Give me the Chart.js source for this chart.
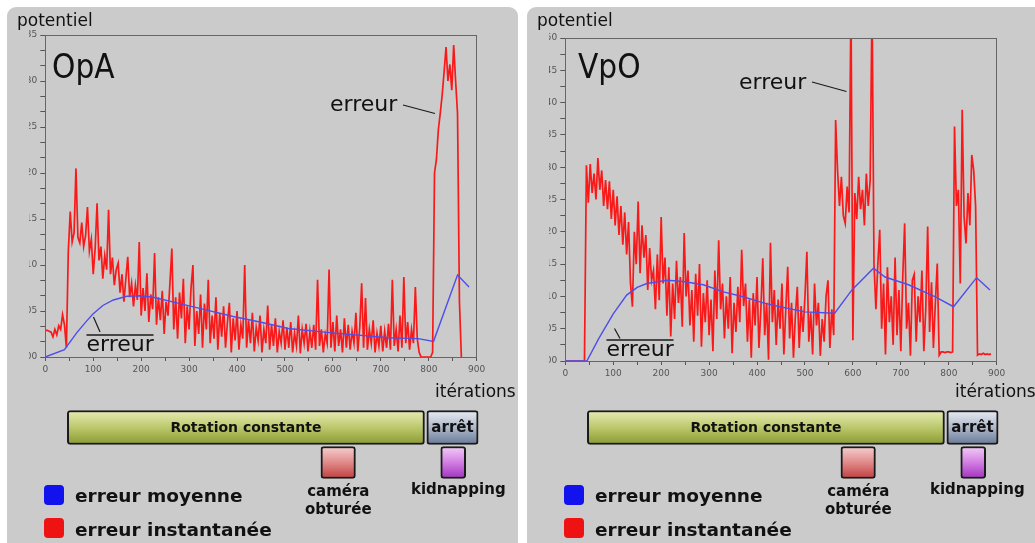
<!DOCTYPE html>
<html lang="fr">
<head>
<meta charset="utf-8">
<title>OpA / VpO</title>
<script src="https://cdn.jsdelivr.net/npm/chart.js@4.4.1/dist/chart.umd.min.js"></script>
<style>
  html, body { margin: 0; padding: 0; background: #fff; }
  body { width: 1035px; height: 543px; position: relative; overflow: hidden; font-family: 'DejaVu Sans', sans-serif; color: #111; }
  .panneau { position: absolute; top: 7px; height: 560px; background: #cbcbcb; border-radius: 9px; }
  canvas { position: absolute; }
  .txt { position: absolute; white-space: nowrap; line-height: 1; }
  .carre { position: absolute; width: 20px; height: 20px; border-radius: 4px; }
</style>
</head>
<body>
<div class="panneau" style="left:7px;width:511px"></div>
<div class="panneau" style="left:527px;width:520px"></div>

<canvas id="opa" width="469" height="365" style="left:29px;top:20px"></canvas>
<canvas id="vpo" width="469" height="365" style="left:549px;top:20px"></canvas>
<canvas id="chronoOpa" width="469" height="80" style="left:29px;top:405px"></canvas>
<canvas id="chronoVpo" width="469" height="80" style="left:549px;top:405px"></canvas>

<div id="textes"></div>

<svg width="1035" height="543" style="position:absolute;left:0;top:0" stroke="#1a1a1a" stroke-width="1.2">
  <line x1="403" y1="105" x2="435" y2="113.5"/>
  <line x1="93.5" y1="317" x2="100" y2="332"/>
  <line x1="86.5" y1="335" x2="153.5" y2="335" stroke-width="1.6"/>
  <line x1="812" y1="82" x2="846.5" y2="91.5"/>
  <line x1="614.5" y1="328.5" x2="620" y2="338.5"/>
  <line x1="606.5" y1="340" x2="673.5" y2="340" stroke-width="1.6"/>
</svg>

<script>
// pas d'échantillonnage de l'erreur instantanée (itérations)
const pas = 4;

// OpA : erreur instantanée, une valeur toutes les 4 itérations (unité : 0.01)
const opaErreur = [
  2.9, 2.9, 2.8, 2.7, 2.2, 3.0, 2.4, 3.4, 3.0, 4.6,
  3.5, 1.0, 11.5, 15.8, 12.5, 13.5, 20.5, 13.0, 12.4, 14.6,
  12.0, 13.2, 16.3, 11.5, 12.8, 9.0, 11.8, 16.7, 10.5, 12.0,
  8.5, 11.0, 9.5, 16.0, 9.0, 10.8, 7.8, 9.5, 10.2, 7.0,
  9.0, 6.0, 8.5, 10.9, 6.5, 8.0, 5.5, 7.8, 6.2, 12.5,
  4.5, 7.5, 5.0, 9.1, 3.8, 6.8, 5.2, 11.3, 3.5, 6.5,
  4.0, 7.2, 2.5, 6.0, 4.5, 8.0, 11.8, 3.0, 6.5, 2.0,
  7.0, 4.2, 8.5, 1.5, 5.5, 3.0, 7.5, 10.0, 1.2, 5.0,
  2.5, 6.8, 1.0, 5.8, 3.0, 8.4, 1.5, 4.5, 2.0, 6.5,
  0.8, 4.8, 2.2, 5.5, 1.0, 3.8, 5.9, 0.5, 4.2, 1.8,
  5.0, 0.8, 3.5, 2.0, 10.0, 1.0, 4.0, 1.5, 4.8, 0.6,
  3.2, 1.8, 4.5, 0.5, 3.0, 1.5, 5.6, 0.8, 3.5, 1.2,
  4.2, 0.5, 2.8, 1.5, 4.0, 0.8, 3.2, 1.0, 3.8, 0.5,
  2.6, 1.2, 4.5, 0.4, 3.0, 1.5, 3.6, 0.6, 2.8, 1.0,
  3.5, 0.8, 8.4, 1.2, 3.0, 0.5, 2.5, 1.5, 9.5, 1.0,
  3.8, 0.6, 4.5, 1.2, 3.0, 0.5, 4.2, 1.0, 3.5, 0.8,
  2.8, 1.5, 4.8, 0.6, 3.2, 8.0, 1.0, 6.4, 0.8, 3.0,
  1.5, 4.0, 0.5, 2.6, 1.2, 3.4, 0.6, 2.8, 1.0, 3.6,
  0.8, 8.4, 1.2, 3.0, 0.6, 4.5, 1.0, 8.7, 1.5, 3.8,
  0.8, 3.0, 1.5, 7.6, 2.0, 0.5, 0, 0, 0, 0,
  0, 0, 0.5, 20.0, 21.5, 24.7, 26.5, 28.5, 31.0, 33.7,
  30.0, 31.8, 29.0, 33.9, 30.0, 26.5, 6.0, 0
];
// OpA : erreur moyenne
const opaMoyIt  = [0, 40, 65, 86, 100, 120, 142, 170, 198, 225, 281, 337, 392, 448, 507, 604, 716, 778, 810, 860, 884];
const opaMoyVal = [0, 0.8, 2.6, 3.9, 4.7, 5.6, 6.2, 6.6, 6.65, 6.5, 5.8, 5.1, 4.4, 3.8, 3.1, 2.6, 2.1, 2.0, 1.7, 8.9, 7.6];

// VpO : erreur instantanée
const vpoErreur = [
  0, 0, 0, 0, 0, 0, 0, 0, 0, 0,
  0, 30.3, 24.5, 30.5, 26.0, 29.0, 25.0, 31.4, 26.5, 29.5,
  24.0, 28.0, 23.5, 27.8, 22.0, 26.5, 21.0, 25.5, 19.5, 24.0,
  18.0, 23.0, 16.5, 21.5, 12.0, 8.4, 20.0, 15.0, 24.7, 13.6,
  21.0, 16.0, 19.5, 11.0, 17.5, 12.5, 14.0, 8.0, 16.5, 9.4,
  22.3, 12.0, 16.0, 7.0, 14.5, 3.8, 12.0, 6.5, 15.5, 9.0,
  13.0, 5.3, 19.8, 10.0, 14.0, 5.5, 11.0, 3.0, 13.5, 7.0,
  15.0, 2.2, 10.5, 6.0, 12.5, 4.0, 9.5, 1.5, 14.0, 6.5,
  18.7, 8.0, 12.0, 3.5, 10.0, 5.0, 13.0, 1.2, 9.0, 4.5,
  11.5, 6.0, 17.2, 8.5, 12.0, 3.0, 9.5, 0.5, 10.5, 5.5,
  13.0, 2.0, 8.0, 15.9, 4.0, 9.0, 0.2, 18.3, 6.0, 11.0,
  2.5, 9.5, 5.0, 12.0, 1.0, 8.0, 14.6, 3.5, 9.0, 0.5,
  7.0, 11.5, 2.0, 8.5, 4.5, 10.0, 16.9, 3.0, 7.5, 1.0,
  12.0, 5.5, 9.0, 0.8, 6.5, 3.0, 10.0, 12.5, 2.0, 8.0,
  4.0, 37.3, 29.5, 24.0, 28.5, 22.5, 21.3, 27.0, 23.0, 56,
  3.2, 26.0, 22.0, 28.5, 23.5, 26.5, 21.0, 29.0, 24.0, 28.0,
  56, 15.0, 8.0, 15.0, 20.3, 5.0, 12.0, 1.0, 14.5, 6.0,
  10.0, 2.5, 16.0, 4.0, 11.0, 1.5, 13.0, 21.3, 5.0, 9.0,
  0.8, 12.5, 13.4, 3.0, 10.0, 6.0, 14.0, 1.5, 8.0, 20.8,
  4.5, 12.2, 2.0, 9.0, 15.1, 0.9, 1.4, 1.4, 1.3, 1.4,
  1.4, 1.3, 1.4, 36.3, 24.0, 26.5, 12.0, 38.9, 22.3, 18.2,
  26.0, 21.0, 31.9, 29.5, 24.0, 0.9, 1.1, 1.0, 1.2, 1.0,
  1.1, 1.0, 1.1
];
// VpO : erreur moyenne
const vpoMoyIt  = [0, 45, 70, 100, 128, 150, 170, 212, 246, 288, 330, 371, 413, 448, 500, 562, 598, 643, 667, 716, 771, 810, 858, 886];
const vpoMoyVal = [0, 0, 3.5, 7.3, 10.2, 11.4, 12.0, 12.5, 12.3, 11.8, 10.7, 9.95, 9.0, 8.4, 7.6, 7.4, 11.0, 14.35, 13.0, 11.8, 9.95, 8.4, 12.9, 11.0];

// chronologie de l'expérience (itérations)
const phases = ['Rotation constante', 'arrêt'];
const phaseDebut = [46, 796];
const phaseFin = [791, 903];
const evenements = ['caméra obturée', 'kidnapping'];
const evtDebut = [575, 825];
const evtFin = [647, 877];

const police = { family: 'DejaVu Sans', size: 9 };

// cadre autour de la zone de tracé
const cadre = {
  id: 'cadre',
  afterDraw(chart) {
    const a = chart.chartArea, c = chart.ctx;
    c.save();
    c.strokeStyle = '#666';
    c.lineWidth = 1;
    c.strokeRect(Math.round(a.left) + 0.5, Math.round(a.top) + 0.5, Math.round(a.right - a.left), Math.round(a.bottom - a.top));
    c.restore();
  }
};

function courbe(id, erreur, moyIt, moyVal, yMax, yPas, padTop, padBottom) {
  var yTicks = [];
  for (var k = 0; k * yPas <= yMax + 1e-9; k++) yTicks.push(k * yPas);
  return new Chart(document.getElementById(id), {
    type: 'line',
    data: {
      datasets: [
        {
          label: 'erreur moyenne',
          data: moyIt.map((x, i) => ({ x: x, y: moyVal[i] })),
          borderColor: 'rgb(78,78,232)',
          borderWidth: 1.4
        },
        {
          label: 'erreur instantanée',
          data: erreur.map((v, i) => ({ x: i * pas, y: v })),
          borderColor: 'rgba(255,0,0,0.88)',
          borderWidth: 1.7,
          borderJoinStyle: 'miter'
        }
      ]
    },
    options: {
      responsive: false,
      animation: false,
      layout: { autoPadding: false, padding: { left: 0, right: 21.3, top: padTop, bottom: padBottom } },
      elements: { point: { radius: 0 }, line: { tension: 0 } },
      plugins: { legend: { display: false }, tooltip: { enabled: false } },
      scales: {
        x: {
          type: 'linear', min: 0, max: 900,
          ticks: {
            stepSize: 50, autoSkip: false, maxRotation: 0, padding: 3,
            color: '#555', font: police,
            callback: v => (v % 100 === 0 ? v : '')
          },
          grid: { drawOnChartArea: false, tickLength: 4, tickColor: '#555' },
          border: { color: '#666' },
          afterFit: s => { s.height = 20; }
        },
        y: {
          type: 'linear', min: 0, max: yMax,
          afterBuildTicks: s => { s.ticks = yTicks.map(v => ({ value: v })); },
          ticks: {
            autoSkip: false, padding: 3, color: '#555', font: police,
            callback: v => (Math.abs(v / 5 - Math.round(v / 5)) < 1e-6 ? (v / 100).toFixed(2) : '')
          },
          grid: { drawOnChartArea: false, tickLength: 5, tickColor: '#555' },
          border: { color: '#666' },
          afterFit: s => { s.width = 16.3; }
        }
      }
    },
    plugins: [cadre]
  });
}

courbe('opa', opaErreur, opaMoyIt, opaMoyVal, 35, 5 / 3, 15, 8);
courbe('vpo', vpoErreur, vpoMoyIt, vpoMoyVal, 50, 2.5, 18, 4);

// dégradé vertical d'une barre
function degrade(ctx, stops, epaisseur) {
  var chart = ctx.chart;
  if (!chart.chartArea || !ctx.parsed) return stops[1];
  var yc = chart.scales.y.getPixelForValue(ctx.parsed.y);
  var g = chart.ctx.createLinearGradient(0, yc - epaisseur / 2, 0, yc + epaisseur / 2);
  g.addColorStop(0, stops[0]);
  g.addColorStop(0.5, stops[1]);
  g.addColorStop(1, stops[2]);
  return g;
}

const couleursPhases = [['#e6ebb4', '#bcc86c', '#8a9a30'], ['#e8ecf3', '#aeb8ca', '#687a98']];
const couleursEvt = [['#f7d0d0', '#e08a8a', '#c23e3e'], ['#f3cdf7', '#d27ee2', '#a032bf']];
const policesPhases = ['bold 14px DejaVu Sans', 'bold 15px DejaVu Sans'];

const etiquettes = {
  id: 'etiquettes',
  afterDatasetsDraw(chart) {
    var c = chart.ctx;
    chart.data.datasets.forEach(function(ds, i) {
      if (!ds.texte) return;
      chart.getDatasetMeta(i).data.forEach(function(bar) {
        c.save();
        c.font = ds.police;
        c.fillStyle = '#111';
        c.textAlign = 'center';
        c.textBaseline = 'middle';
        c.fillText(ds.texte, (bar.x + bar.base) / 2, bar.y + 1);
        c.restore();
      });
    });
  }
};

function chronologie(id) {
  var datasets = [];
  phases.forEach(function(p, i) {
    datasets.push({
      label: p,
      texte: p,
      police: policesPhases[i],
      data: [{ x: [phaseDebut[i], phaseFin[i]], y: 'phases' }],
      barThickness: 34,
      backgroundColor: ctx => degrade(ctx, couleursPhases[i], 34)
    });
  });
  evenements.forEach(function(e, i) {
    datasets.push({
      label: e,
      data: [{ x: [evtDebut[i], evtFin[i]], y: 'événements' }],
      barThickness: 32,
      backgroundColor: ctx => degrade(ctx, couleursEvt[i], 32)
    });
  });
  return new Chart(document.getElementById(id), {
    type: 'bar',
    data: { labels: ['phases', 'événements'], datasets: datasets },
    options: {
      indexAxis: 'y',
      responsive: false,
      animation: false,
      layout: { autoPadding: false, padding: { left: 16.3, right: 21.3, top: 5, bottom: 5 } },
      datasets: { bar: { grouped: false, clip: false, borderWidth: 2, borderColor: '#1a1a1a', borderRadius: 3, borderSkipped: false } },
      plugins: { legend: { display: false }, tooltip: { enabled: false } },
      scales: {
        x: { type: 'linear', min: 0, max: 900, display: false },
        y: { display: false }
      }
    },
    plugins: [etiquettes]
  });
}

chronologie('chronoOpa');
chronologie('chronoVpo');

// textes posés sur la figure
var zone = document.getElementById('textes');
function texte(x, base, str, taille, extra) {
  var d = document.createElement('div');
  d.className = 'txt';
  d.textContent = str;
  d.style.fontSize = taille + 'px';
  d.style.left = x + 'px';
  d.style.top = (base - 0.846 * taille) + 'px';
  if (extra) Object.assign(d.style, extra);
  zone.appendChild(d);
  return d;
}
function centre(cx, base, str, taille) {
  return texte(cx - 100, base, str, taille, { width: '200px', textAlign: 'center', fontWeight: 'bold' });
}

var titre = { transform: 'scaleX(0.9)', transformOrigin: 'left top' };
texte(17, 26, 'potentiel', 17);
texte(537, 26, 'potentiel', 17);
texte(52, 78, 'OpA', 33, titre);
texte(578, 78, 'VpO', 33, titre);
texte(330, 112, 'erreur', 22);
texte(739, 90, 'erreur', 22);
texte(86.5, 352, 'erreur', 22);
texte(606.5, 357, 'erreur', 22);
texte(435, 397, 'itérations', 17);
texte(955, 397, 'itérations', 17);

[0, 520].forEach(function(dx) {
  centre(338.3 + dx, 496.5, 'caméra', 15);
  centre(338.3 + dx, 515, 'obturée', 15);
  centre(458.3 + dx - (dx ? 1 : 0), 494.5, 'kidnapping', 15);
  var b = document.createElement('div');
  b.className = 'carre';
  b.style.left = (44 + dx) + 'px'; b.style.top = '485px'; b.style.background = '#1212ee';
  zone.appendChild(b);
  var r = document.createElement('div');
  r.className = 'carre';
  r.style.left = (44 + dx) + 'px'; r.style.top = '518px'; r.style.background = '#ee1212';
  zone.appendChild(r);
  texte(75 + dx, 502.5, 'erreur moyenne', 18.5, { fontWeight: 'bold' });
  texte(75 + dx, 536.5, 'erreur instantanée', 18.5, { fontWeight: 'bold' });
});
</script>
</body>
</html>
